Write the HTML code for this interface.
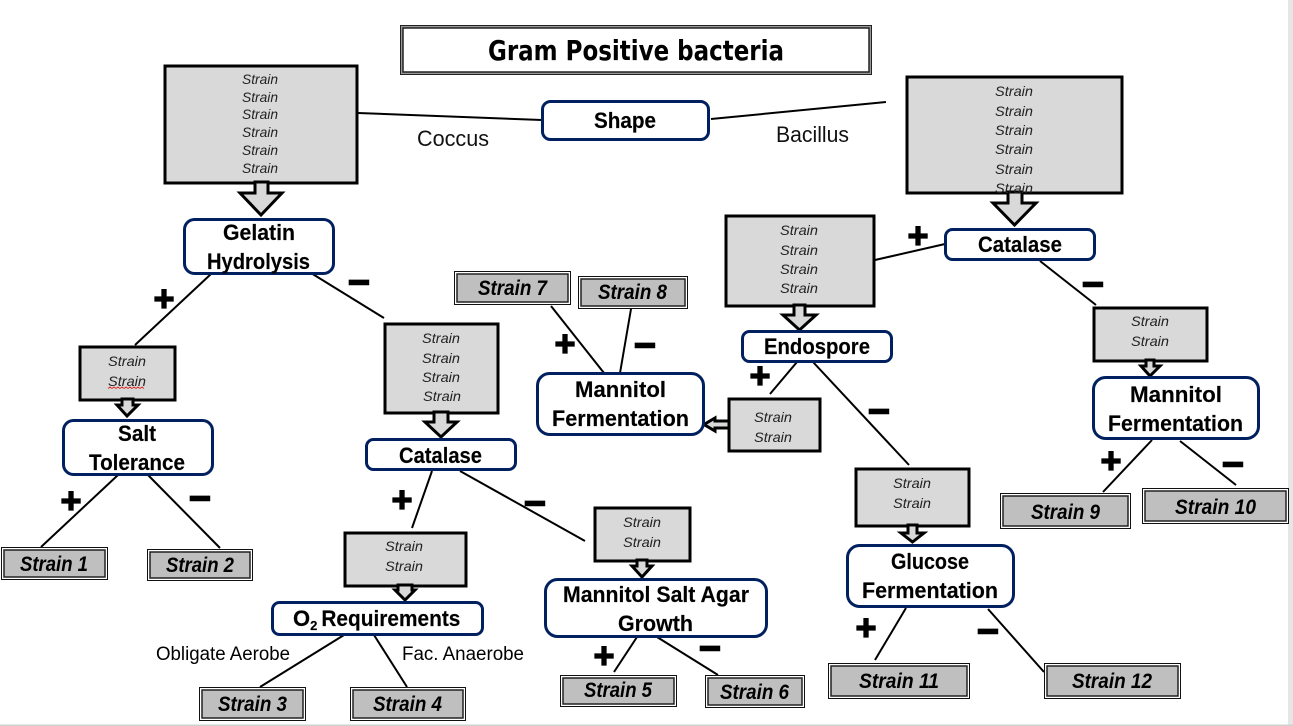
<!DOCTYPE html>
<html lang="en">
<head>
<meta charset="utf-8">
<title>Gram Positive bacteria</title>
<style>
html,body{margin:0;padding:0;background:#fff;width:1293px;height:726px;overflow:hidden}
svg{display:block}
text{font-family:"Liberation Sans",sans-serif;fill:#000}
.n{font-weight:700;font-size:22px;stroke:#000;stroke-width:.15}
.s{font-style:italic;font-size:14px;fill:#222}
.l{font-weight:700;font-style:italic;font-size:21px}
.a{font-size:22px;fill:#111}
.g{fill:#d9d9d9;stroke:#000;stroke-width:3}
.r{fill:#fff;stroke:#002060;stroke-width:3}
.o{fill:#fff;stroke:#111;stroke-width:1}
.i{fill:#bfbfbf;stroke:#222;stroke-width:1.5}
.c{stroke:#000;stroke-width:2;fill:none}
.ar{fill:#d9d9d9;stroke:#000;stroke-width:3;stroke-linejoin:miter}
.p{font-weight:700;font-size:36px;stroke:#000;stroke-width:1.300;text-anchor:middle}
.m{font-weight:700;font-size:38px;stroke:#000;stroke-width:1.500;text-anchor:middle}
</style>
</head>
<body>
<svg width="1293" height="726" viewBox="0 0 1293 726" xmlns="http://www.w3.org/2000/svg">
<rect x="1288" y="0" width="5" height="726" fill="#e6e6e6"/>
<rect x="0" y="724.500" width="1293" height="1.500" fill="#d0d0d0"/>

<!-- title -->
<rect x="400.500" y="25.500" width="471" height="49" fill="#999" stroke="#222" stroke-width="1"/>
<rect x="403" y="28" width="466" height="44" fill="#fff" stroke="#222" stroke-width="1.500"/>
<text x="488" y="60" font-size="28" font-weight="700" textLength="296" lengthAdjust="spacingAndGlyphs" style="font-family:'DejaVu Sans',sans-serif">Gram Positive bacteria</text>

<!-- connectors -->
<g class="c">
<line x1="358" y1="113" x2="542" y2="120"/>
<line x1="711" y1="119" x2="886" y2="102"/>
<line x1="211" y1="274" x2="135" y2="345"/>
<line x1="311" y1="273" x2="384" y2="318"/>
<line x1="118" y1="475" x2="41" y2="547"/>
<line x1="148" y1="475" x2="220" y2="548"/>
<line x1="432" y1="471" x2="412" y2="528"/>
<line x1="460" y1="471" x2="585" y2="541"/>
<line x1="344" y1="635" x2="260" y2="687"/>
<line x1="374" y1="635" x2="407" y2="687"/>
<line x1="637" y1="637" x2="614" y2="672"/>
<line x1="657" y1="637" x2="718" y2="675"/>
<line x1="551" y1="306" x2="604" y2="373"/>
<line x1="631" y1="309" x2="620" y2="373"/>
<line x1="945" y1="244" x2="875" y2="260"/>
<line x1="1040" y1="261" x2="1096" y2="305"/>
<line x1="797" y1="362" x2="770" y2="394"/>
<line x1="813" y1="362" x2="909" y2="465"/>
<line x1="1152" y1="440" x2="1103" y2="492"/>
<line x1="1180" y1="441" x2="1236" y2="485"/>
<line x1="906" y1="608" x2="875" y2="660"/>
<line x1="988" y1="609" x2="1044" y2="672"/>
</g>

<!-- grey strain groups -->
<rect class="g" x="165" y="66" width="192" height="117"/>
<rect class="g" x="907" y="77" width="215" height="116"/>
<rect class="g" x="726" y="216" width="148" height="90"/>
<rect class="g" x="1094" y="308" width="113" height="53"/>
<rect class="g" x="80" y="347" width="95" height="53"/>
<rect class="g" x="385" y="324" width="113" height="89"/>
<rect class="g" x="345" y="533" width="121" height="53"/>
<rect class="g" x="595" y="508" width="95" height="53"/>
<rect class="g" x="729" y="399" width="91" height="52"/>
<rect class="g" x="856" y="469" width="113" height="57"/>

<!-- block arrows -->
<polygon class="ar" points="255,182 268,182 268,193 282,193 261,215 240,193 255,193"/>
<polygon class="ar" points="1008,192 1022,192 1022,203 1036,203 1014.500,225 993,203 1008,203"/>
<polygon class="ar" points="794,305 805,305 805,315 816,315 799.500,330 783,315 794,315"/>
<polygon class="ar" points="1146,360 1154,360 1154,366 1160,366 1150,376 1141,366 1146,366"/>
<polygon class="ar" points="122,399 133,399 133,405 138,405 127,416 117,405 122,405"/>
<polygon class="ar" points="434,412 448,412 448,422 457,422 441,437 425,422 434,422"/>
<polygon class="ar" points="398,585 412,585 412,590 415,590 405,600 395,590 398,590"/>
<polygon class="ar" points="637,560 647,560 647,566 652,566 642,577 632,566 637,566"/>
<polygon class="ar" points="729,421 729,428 715,428 715,431 704,424.500 715,418 715,421"/>
<polygon class="ar" points="908,525 917,525 917,533 924,533 912.500,542 901,533 908,533"/>

<!-- rounded nodes -->
<rect class="r" x="542.500" y="101.500" width="166" height="38" rx="8"/>
<rect class="r" x="184.500" y="219.500" width="149" height="54" rx="10"/>
<rect class="r" x="945.500" y="229.500" width="149" height="30" rx="7"/>
<rect class="r" x="742.500" y="331.500" width="149" height="30" rx="7"/>
<rect class="r" x="537.500" y="373.500" width="166" height="61" rx="12"/>
<rect class="r" x="1093.500" y="377.500" width="165" height="61" rx="12"/>
<rect class="r" x="63.500" y="420.500" width="149" height="54" rx="10"/>
<rect class="r" x="366.500" y="439.500" width="149" height="30" rx="7"/>
<rect class="r" x="272.500" y="602.500" width="210" height="32" rx="7"/>
<rect class="r" x="545.500" y="579.500" width="221" height="57" rx="12"/>
<rect class="r" x="847.500" y="545.500" width="166" height="61" rx="12"/>

<!-- node text -->
<text class="n" x="594" y="128" textLength="62" lengthAdjust="spacingAndGlyphs">Shape</text>
<text class="n" x="223" y="240" textLength="72" lengthAdjust="spacingAndGlyphs">Gelatin</text>
<text class="n" x="207" y="269" textLength="103" lengthAdjust="spacingAndGlyphs">Hydrolysis</text>
<text class="n" x="978" y="252" textLength="84" lengthAdjust="spacingAndGlyphs">Catalase</text>
<text class="n" x="764" y="354" textLength="106" lengthAdjust="spacingAndGlyphs">Endospore</text>
<text class="n" x="575" y="397" textLength="91" lengthAdjust="spacingAndGlyphs">Mannitol</text>
<text class="n" x="552" y="426" textLength="137" lengthAdjust="spacingAndGlyphs">Fermentation</text>
<text class="n" x="1130" y="402" textLength="92" lengthAdjust="spacingAndGlyphs">Mannitol</text>
<text class="n" x="1108" y="431" textLength="135" lengthAdjust="spacingAndGlyphs">Fermentation</text>
<text class="n" x="118" y="441" textLength="38" lengthAdjust="spacingAndGlyphs">Salt</text>
<text class="n" x="89" y="470" textLength="96" lengthAdjust="spacingAndGlyphs">Tolerance</text>
<text class="n" x="399" y="463" textLength="83" lengthAdjust="spacingAndGlyphs">Catalase</text>
<text class="n" x="293" y="626">O<tspan font-size="13" dy="4">2</tspan><tspan dy="-4" dx="4" textLength="139" lengthAdjust="spacingAndGlyphs">Requirements</tspan></text>
<text class="n" x="563" y="602" textLength="186" lengthAdjust="spacingAndGlyphs">Mannitol Salt Agar</text>
<text class="n" x="618" y="631" textLength="75" lengthAdjust="spacingAndGlyphs">Growth</text>
<text class="n" x="891" y="569" textLength="78" lengthAdjust="spacingAndGlyphs">Glucose</text>
<text class="n" x="862" y="598" textLength="136" lengthAdjust="spacingAndGlyphs">Fermentation</text>

<!-- small strain text -->
<g class="s" text-anchor="start">
<text class="s" x="242" y="84" textLength="36" lengthAdjust="spacingAndGlyphs">Strain</text>
<text class="s" x="242" y="102" textLength="36" lengthAdjust="spacingAndGlyphs">Strain</text>
<text class="s" x="242" y="119" textLength="36" lengthAdjust="spacingAndGlyphs">Strain</text>
<text class="s" x="242" y="137" textLength="36" lengthAdjust="spacingAndGlyphs">Strain</text>
<text class="s" x="242" y="155" textLength="36" lengthAdjust="spacingAndGlyphs">Strain</text>
<text class="s" x="242" y="173" textLength="36" lengthAdjust="spacingAndGlyphs">Strain</text>
<text class="s" x="995" y="96" textLength="38" lengthAdjust="spacingAndGlyphs">Strain</text>
<text class="s" x="995" y="116" textLength="38" lengthAdjust="spacingAndGlyphs">Strain</text>
<text class="s" x="995" y="135" textLength="38" lengthAdjust="spacingAndGlyphs">Strain</text>
<text class="s" x="995" y="154" textLength="38" lengthAdjust="spacingAndGlyphs">Strain</text>
<text class="s" x="995" y="174" textLength="38" lengthAdjust="spacingAndGlyphs">Strain</text>
<text class="s" x="995" y="193" textLength="38" lengthAdjust="spacingAndGlyphs">Strain</text>
<text class="s" x="780" y="235" textLength="38" lengthAdjust="spacingAndGlyphs">Strain</text>
<text class="s" x="780" y="255" textLength="38" lengthAdjust="spacingAndGlyphs">Strain</text>
<text class="s" x="780" y="274" textLength="38" lengthAdjust="spacingAndGlyphs">Strain</text>
<text class="s" x="780" y="293" textLength="38" lengthAdjust="spacingAndGlyphs">Strain</text>
<text class="s" x="1131" y="326" textLength="38" lengthAdjust="spacingAndGlyphs">Strain</text>
<text class="s" x="1131" y="346" textLength="38" lengthAdjust="spacingAndGlyphs">Strain</text>
<text class="s" x="108" y="366" textLength="38" lengthAdjust="spacingAndGlyphs">Strain</text>
<text class="s" x="108" y="386" textLength="38" lengthAdjust="spacingAndGlyphs">Strain</text>
<text class="s" x="422" y="343" textLength="38" lengthAdjust="spacingAndGlyphs">Strain</text>
<text class="s" x="422" y="363" textLength="38" lengthAdjust="spacingAndGlyphs">Strain</text>
<text class="s" x="422" y="382" textLength="38" lengthAdjust="spacingAndGlyphs">Strain</text>
<text class="s" x="423" y="401" textLength="38" lengthAdjust="spacingAndGlyphs">Strain</text>
<text class="s" x="385" y="551" textLength="38" lengthAdjust="spacingAndGlyphs">Strain</text>
<text class="s" x="385" y="571" textLength="38" lengthAdjust="spacingAndGlyphs">Strain</text>
<text class="s" x="623" y="527" textLength="38" lengthAdjust="spacingAndGlyphs">Strain</text>
<text class="s" x="623" y="547" textLength="38" lengthAdjust="spacingAndGlyphs">Strain</text>
<text class="s" x="754" y="422" textLength="38" lengthAdjust="spacingAndGlyphs">Strain</text>
<text class="s" x="754" y="442" textLength="38" lengthAdjust="spacingAndGlyphs">Strain</text>
<text class="s" x="893" y="488" textLength="38" lengthAdjust="spacingAndGlyphs">Strain</text>
<text class="s" x="893" y="508" textLength="38" lengthAdjust="spacingAndGlyphs">Strain</text>
</g>
<path d="M108 388.500l2 -1.500 2 1.500 2 -1.500 2 1.500 2 -1.500 2 1.500 2 -1.500 2 1.500 2 -1.500 2 1.500 2 -1.500 2 1.500 2 -1.500 2 1.500 2 -1.500 2 1.500 2 -1.500 2 1.500" fill="none" stroke="#d22" stroke-width=".8"/>

<!-- terminal strain boxes -->
<rect class="o" x="1.500" y="547.500" width="106" height="32"/><rect class="i" x="4" y="550" width="101" height="27"/>
<rect class="o" x="147.500" y="549.500" width="105" height="31"/><rect class="i" x="150" y="552" width="100" height="26"/>
<rect class="o" x="199.500" y="687.500" width="106" height="33"/><rect class="i" x="202" y="690" width="101" height="28"/>
<rect class="o" x="350.500" y="687.500" width="115" height="33"/><rect class="i" x="353" y="690" width="110" height="28"/>
<rect class="o" x="560.500" y="675.500" width="116" height="31"/><rect class="i" x="563" y="678" width="111" height="26"/>
<rect class="o" x="705.500" y="675.500" width="99" height="32"/><rect class="i" x="708" y="678" width="94" height="27"/>
<rect class="o" x="454.500" y="271.500" width="116" height="33"/><rect class="i" x="457" y="274" width="111" height="28"/>
<rect class="o" x="578.500" y="276.500" width="109" height="32"/><rect class="i" x="581" y="279" width="104" height="27"/>
<rect class="o" x="1000.500" y="493.500" width="130" height="35"/><rect class="i" x="1003" y="496" width="125" height="30"/>
<rect class="o" x="1142.500" y="488.500" width="146" height="35"/><rect class="i" x="1145" y="491" width="141" height="30"/>
<rect class="o" x="828.500" y="663.500" width="141" height="35"/><rect class="i" x="831" y="666" width="136" height="30"/>
<rect class="o" x="1044.500" y="663.500" width="136" height="35"/><rect class="i" x="1047" y="666" width="131" height="30"/>

<text class="l" x="20" y="571" textLength="68" lengthAdjust="spacingAndGlyphs">Strain 1</text>
<text class="l" x="166" y="572" textLength="68" lengthAdjust="spacingAndGlyphs">Strain 2</text>
<text class="l" x="218" y="711" textLength="69" lengthAdjust="spacingAndGlyphs">Strain 3</text>
<text class="l" x="373" y="711" textLength="69" lengthAdjust="spacingAndGlyphs">Strain 4</text>
<text class="l" x="584" y="697" textLength="68" lengthAdjust="spacingAndGlyphs">Strain 5</text>
<text class="l" x="720" y="699" textLength="69" lengthAdjust="spacingAndGlyphs">Strain 6</text>
<text class="l" x="478" y="295" textLength="69" lengthAdjust="spacingAndGlyphs">Strain 7</text>
<text class="l" x="598" y="299" textLength="69" lengthAdjust="spacingAndGlyphs">Strain 8</text>
<text class="l" x="1031" y="519" textLength="69" lengthAdjust="spacingAndGlyphs">Strain 9</text>
<text class="l" x="1175" y="514" textLength="81" lengthAdjust="spacingAndGlyphs">Strain 10</text>
<text class="l" x="859" y="688" textLength="80" lengthAdjust="spacingAndGlyphs">Strain 11</text>
<text class="l" x="1072" y="688" textLength="80" lengthAdjust="spacingAndGlyphs">Strain 12</text>

<!-- connector labels -->
<text x="417" y="146" class="a" textLength="72" lengthAdjust="spacingAndGlyphs">Coccus</text>
<text x="776" y="142" class="a" textLength="73" lengthAdjust="spacingAndGlyphs">Bacillus</text>
<text x="156" y="660" style="font-size:19px" textLength="134" lengthAdjust="spacingAndGlyphs">Obligate Aerobe</text>
<text x="402" y="660" style="font-size:19px" textLength="122" lengthAdjust="spacingAndGlyphs">Fac. Anaerobe</text>

<!-- plus signs -->
<text class="p" x="164" y="311">+</text>
<text class="p" x="565" y="356">+</text>
<text class="p" x="760" y="388">+</text>
<text class="p" x="918" y="248">+</text>
<text class="p" x="71" y="513">+</text>
<text class="p" x="402" y="512">+</text>
<text class="p" x="604" y="668">+</text>
<text class="p" x="866" y="640">+</text>
<text class="p" x="1111" y="473">+</text>

<!-- minus signs -->
<text class="m" x="359" y="295">−</text>
<text class="m" x="645" y="358">−</text>
<text class="m" x="1093" y="297">−</text>
<text class="m" x="879" y="424">−</text>
<text class="m" x="200" y="511">−</text>
<text class="m" x="535" y="516">−</text>
<text class="m" x="710" y="661">−</text>
<text class="m" x="988" y="644">−</text>
<text class="m" x="1233" y="477">−</text>
</svg>
</body>
</html>
